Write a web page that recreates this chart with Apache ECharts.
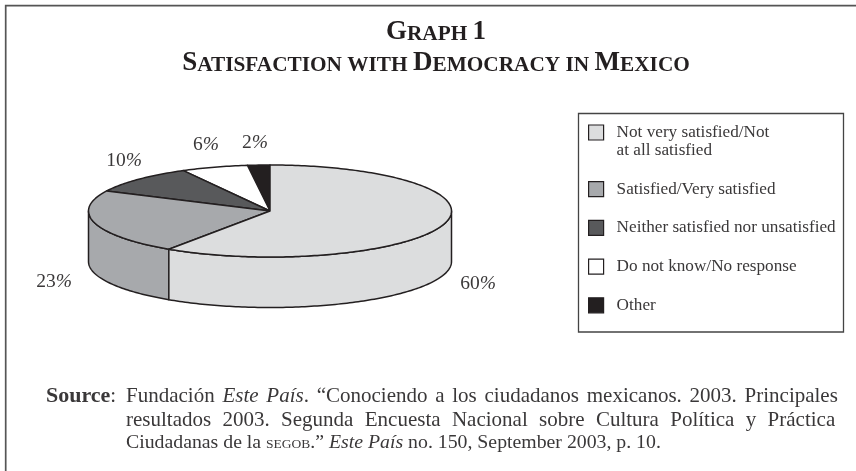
<!DOCTYPE html>
<html><head><meta charset="utf-8">
<style>html,body{margin:0;padding:0;background:#fff}#c{width:856px;height:471px}</style>
<script src="https://cdn.jsdelivr.net/npm/echarts@6/dist/echarts.min.js"></script>
</head><body><div id="c"></div>
<script>
var categories = ['Not very satisfied/Not\nat all satisfied','Satisfied/Very satisfied','Neither satisfied nor unsatisfied','Do not know/No response','Other'];
var values = [60,23,10,6,2];
var colors = ['#dcddde','#a7a9ac','#58595b','#ffffff','#231f20'];
var labelCenters = [[478,284],[54,282],[124,161],[206,145],[255,143]];
var titleLines = ['{b|G}{s|RAPH} {b|1}','{b|S}{s|ATISFACTION} {s|WITH} {b|D}{s|EMOCRACY} {s|IN} {b|M}{s|EXICO}'];
var SERIF = '"Liberation Serif", serif';
var INK = '#231f20', TXT = '#3a3839';
var pie = {cx:270, cy:211, rx:181.5, ry:46, depth:50.5};
var total = values.reduce(function(a,b){return a+b;},0);
var starts = []; values.reduce(function(s,v,i){starts[i]=s;return s+v;},0);
function pt(frac,dy){var a=frac*2*Math.PI;return [pie.cx+pie.rx*Math.sin(a), pie.cy-pie.ry*Math.cos(a)+(dy||0)];}
function arc(f0,f1,dy){var n=Math.max(2,Math.ceil((f1-f0)*360)),p=[];for(var i=0;i<=n;i++)p.push(pt(f0+(f1-f0)*i/n,dy));return p;}
function render(idx){return function(params,api){
  var v=api.value(0), f0=starts[idx]/total, f1=(starts[idx]+v)/total;
  var children=[];
  var w0=Math.max(f0,.25), w1=Math.min(f1,.75);
  if(w1>w0){
    var top=arc(w0,w1,0), bot=arc(w0,w1,pie.depth).reverse();
    children.push({type:'polygon',shape:{points:top.concat(bot)},style:{fill:colors[idx],stroke:INK,lineWidth:1.5,lineJoin:'round'}});
  }
  children.push({type:'polygon',shape:{points:[[pie.cx,pie.cy]].concat(arc(f0,f1,0))},style:{fill:colors[idx],stroke:INK,lineWidth:1.5,lineJoin:'round'}});
  children.push({type:'text',style:{x:labelCenters[idx][0],y:labelCenters[idx][1],text:v+'{p|%}',font:'19.5px '+SERIF,fill:TXT,align:'center',verticalAlign:'middle',rich:{p:{fontFamily:SERIF,fontStyle:'italic',fontSize:19.5,color:TXT}}}});
  return {type:'group',children:children};
};}
var series=values.map(function(v,i){return {type:'custom',name:categories[i],coordinateSystem:'none',silent:true,animation:false,renderItem:render(i),data:[[v]],z:5-i};});
function spaced(line){return line.replace(/ /g,'{g| }');}
function sourceRich(size,gap,sc){return {
  g:{fontFamily:SERIF,fontSize:size,color:TXT,padding:[0,gap,0,0]},
  i:{fontFamily:SERIF,fontStyle:'italic',fontSize:size,color:TXT},
  sc:{fontFamily:SERIF,fontSize:sc,color:TXT,verticalAlign:'bottom',padding:[0,0,.25*(size-sc),0]}
};}
var chart=echarts.init(document.getElementById('c'),null,{renderer:'canvas'});
chart.setOption({
  animation:false,
  backgroundColor:'#fff',
  title:{text:titleLines.join('\n'),left:431,top:10,textAlign:'center',textStyle:{fontFamily:SERIF,fontWeight:'bold',fontSize:21.3,color:INK,rich:{
    b:{fontFamily:SERIF,fontWeight:'bold',fontSize:27,color:INK,verticalAlign:'bottom',padding:[4,0,0,0]},
    s:{fontFamily:SERIF,fontWeight:'bold',fontSize:21.3,color:INK,verticalAlign:'bottom',padding:[0,0,1.4,0]}}}},
  legend:{orient:'vertical',left:588,top:105.5,icon:'rect',itemWidth:15,itemHeight:15,itemGap:20.7,padding:0,selectedMode:false,
    data:categories.map(function(c,i){return {name:c,icon:'rect',itemStyle:{color:colors[i],borderColor:INK,borderWidth:1.2}};}),
    formatter:function(n){return n.indexOf('\n')>=0?'\n'+n:n;},
    textStyle:{fontFamily:SERIF,fontSize:17.2,color:TXT,lineHeight:18,padding:[0,0,0,8]}},
  series:series,
  graphic:[
    {type:'polyline',z:1,shape:{points:[[5.7,471],[5.7,5.7],[856,5.7]]},style:{stroke:'#555',lineWidth:1.7,fill:null}},
    {type:'rect',z:1,shape:{x:578.5,y:113.5,width:265,height:218.5},style:{fill:'#fff',stroke:'#444',lineWidth:1.3}},
    {type:'text',z:3,style:{x:46,y:396,text:'{b|Source}:',verticalAlign:'middle',rich:{b:{fontFamily:SERIF,fontWeight:'bold',fontSize:22,color:INK}},font:'21px '+SERIF,fill:TXT}},
    {type:'text',z:3,style:{x:126,y:396,text:spaced('Fundación {i|Este} {i|País}. “Conociendo a los ciudadanos mexicanos. 2003. Principales'),verticalAlign:'middle',font:'21px '+SERIF,fill:TXT,rich:sourceRich(21,2.5,14)}},
    {type:'text',z:3,style:{x:126,y:420,text:spaced('resultados 2003. Segunda Encuesta Nacional sobre Cultura Política y Práctica'),verticalAlign:'middle',font:'21px '+SERIF,fill:TXT,rich:sourceRich(21,6.1,14)}},
    {type:'text',z:3,style:{x:126,y:443,text:'Ciudadanas de la {sc|SEGOB}.” {i|Este País} no. 150, September 2003, p. 10.',verticalAlign:'middle',font:'19.8px '+SERIF,fill:TXT,rich:sourceRich(19.8,0,13.5)}}
  ]
});
</script></body></html>
